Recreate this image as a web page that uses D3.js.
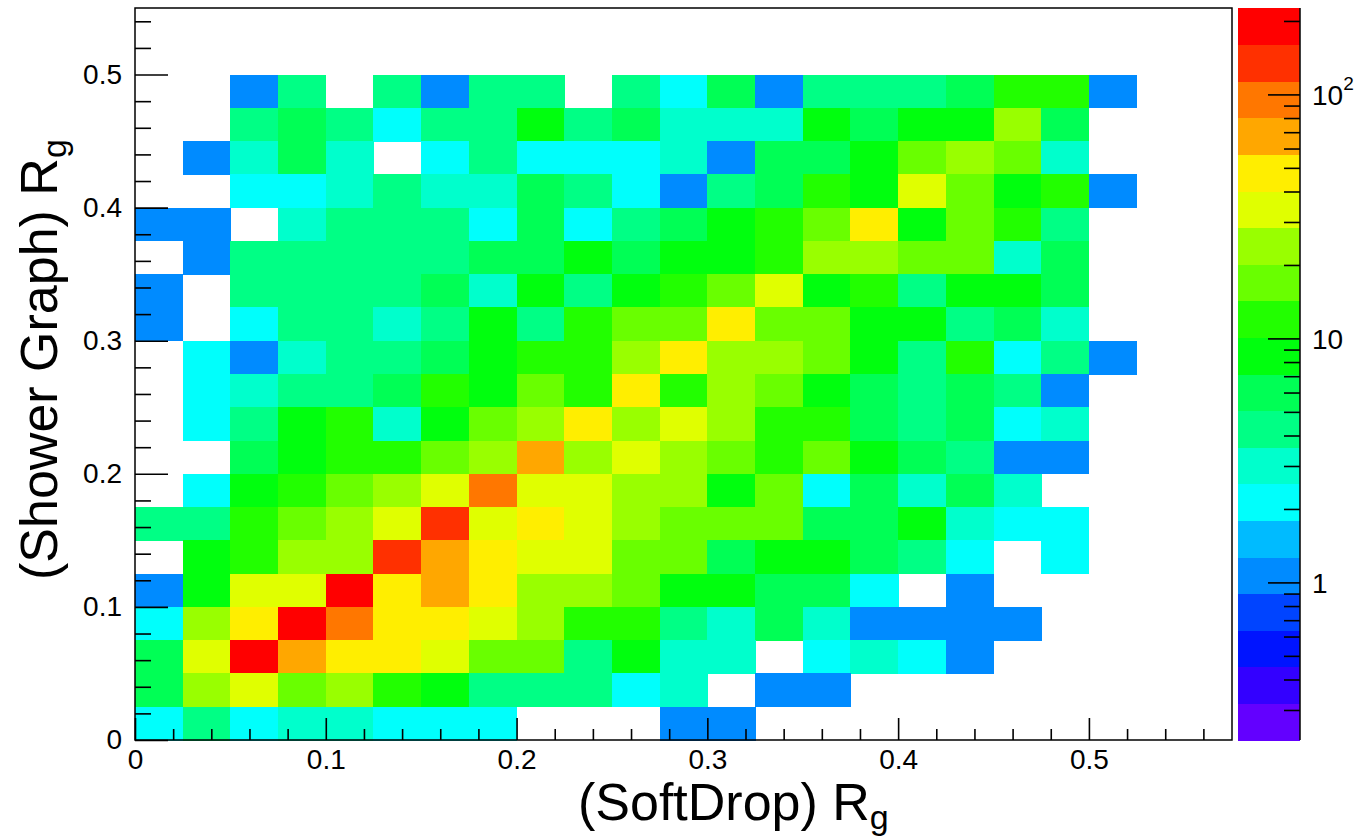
<!DOCTYPE html>
<html><head><meta charset="utf-8">
<script src="https://cdn.jsdelivr.net/npm/d3@7"></script>
<style>
body{margin:0;background:#fff}
svg{display:block}
text{font-family:"Liberation Sans", Arial, Helvetica, sans-serif;fill:#000}
</style>
</head><body>
<svg id="chart" width="1368" height="839"></svg>
<script>
// ---------------- data ----------------
const binWidth = 0.025;             // both axes
const xDomain = [0, 0.575];
const yDomain = [0, 0.55];
const xMajorTicks = [0, 0.1, 0.2, 0.3, 0.4, 0.5];
const yMajorTicks = [0, 0.1, 0.2, 0.3, 0.4, 0.5];
const zMajorTicks = [1, 10, 100];
const zTickLabels = ["1", "10", "10|2"];
const zRange = [0.226, 226];
const nLevels = 20;
// bin counts; first row = top row (y from 0.475 to 0.5), last row = bottom row (y 0 to 0.025)
const counts = [
  [0,0,1,4,0,4,1,4,4,0,4,2,6,1,4,4,4,6,12,12,1],
  [0,0,4,6,4,2,4,4,9,4,6,3,3,3,9,6,9,9,24,6,0],
  [0,1,3,6,3,0,2,4,2,2,2,3,1,6,6,9,17,24,17,3,0],
  [0,0,2,2,3,4,3,3,6,4,2,1,4,6,12,9,34,17,9,12,1],
  [1,1,0,3,4,4,4,2,6,2,4,6,9,12,17,48,9,17,12,4,0],
  [0,1,4,4,4,4,4,6,6,9,6,9,9,12,24,24,17,17,3,6,0],
  [1,0,4,4,4,4,6,3,9,4,9,12,17,34,9,12,4,9,9,6,0],
  [1,0,2,4,4,3,4,9,4,12,17,17,48,17,17,9,9,4,6,3,0],
  [0,2,1,3,4,4,6,9,12,12,24,48,24,24,17,9,4,12,2,4,1],
  [0,2,3,4,4,6,12,9,17,12,48,12,24,17,9,6,4,6,4,1,0],
  [0,2,4,9,12,3,9,17,24,48,24,34,24,12,12,6,4,6,2,3,0],
  [0,0,6,9,12,12,17,24,68,24,34,24,17,12,17,9,6,4,1,1,0],
  [0,2,9,12,17,24,34,95,34,34,24,24,9,17,2,6,3,6,3,0,0],
  [4,4,12,17,24,34,135,34,48,34,24,17,17,17,6,6,9,3,2,2,0],
  [0,9,12,24,24,135,68,48,34,34,17,17,6,9,9,6,4,2,0,2,0],
  [1,9,34,34,190,48,68,48,24,24,17,9,9,6,6,2,0,1,0,0,0],
  [2,24,48,190,95,48,48,34,24,12,12,4,3,6,3,1,1,1,1,0,0],
  [6,34,190,68,48,48,34,17,17,4,9,3,3,0,2,3,2,1,0,0,0],
  [6,24,34,17,24,12,9,4,4,4,2,3,0,1,1,0,0,0,0,0,0],
  [2,4,2,3,3,2,2,2,0,0,0,1,1,0,0,0,0,0,0,0,0]
];
const palette = ["#6300ff","#3300ff","#0014ff","#0044ff","#008bff","#00bbff","#00fffc","#00ffcc","#00ff85","#00ff55",
                 "#00ff0e","#22ff00","#69ff00","#99ff00","#e0ff00","#ffee00","#ffa700","#ff7700","#ff3000","#ff0000"];
const xTitle = "(SoftDrop) R";
const yTitle = "(Shower Graph) R";
const titleSub = "g";

// ---------------- layout ----------------
const svg = d3.select("#chart");
const L = 135, R = 1232, T = 8, B = 740;
const x = d3.scaleLinear().domain(xDomain).range([L, R]);
const y = d3.scaleLinear().domain(yDomain).range([B, T]);
const zLog = d3.scaleLog().domain(zRange).range([B, T]);
const color = d3.scaleQuantize()
  .domain([Math.log10(zRange[0]), Math.log10(zRange[1])])
  .range(palette);

// cells
const cells = [];
const nRows = counts.length;
counts.forEach((row, r) => {
  const yb = nRows - 1 - r;
  row.forEach((v, c) => { if (v > 0) cells.push({c, yb, v}); });
});
svg.append("g").attr("shape-rendering", "crispEdges")
  .selectAll("rect").data(cells).join("rect")
  .attr("x", d => x(d.c * binWidth))
  .attr("y", d => y((d.yb + 1) * binWidth))
  .attr("width", d => x((d.c + 1) * binWidth) - x(d.c * binWidth) + 0.5)
  .attr("height", d => y(d.yb * binWidth) - y((d.yb + 1) * binWidth) + 0.5)
  .attr("fill", d => color(Math.log10(d.v)));

// frame
svg.append("rect").attr("x", L).attr("y", T).attr("width", R - L).attr("height", B - T)
  .attr("fill", "none").attr("stroke", "#000").attr("stroke-width", 1.5);

const fmt = d => d === 0 ? "0" : d3.format(".1f")(d);
const minorX = d3.range(0, 0.571, 0.02).filter(v => Math.abs(v*10 - Math.round(v*10)) > 1e-6);
const minorY = d3.range(0, 0.551, 0.02).filter(v => Math.abs(v*10 - Math.round(v*10)) > 1e-6);

function styleAxis(g) {
  g.select(".domain").remove();
  g.selectAll(".tick line").attr("stroke", "#000").attr("stroke-width", 1.6);
  g.selectAll("text").attr("font-size", 28).attr("fill", "#000")
    .attr("font-family", '"Liberation Sans", Arial, Helvetica, sans-serif');
}
// x axis
svg.append("g").attr("transform", `translate(0,${B})`)
  .call(d3.axisBottom(x).tickValues(minorX).tickSize(-11).tickFormat(""))
  .call(styleAxis);
svg.append("g").attr("transform", `translate(0,${B})`)
  .call(d3.axisBottom(x).tickValues(xMajorTicks).tickSize(-22).tickPadding(9).tickFormat(fmt))
  .call(styleAxis);
// y axis
svg.append("g").attr("transform", `translate(${L},0)`)
  .call(d3.axisLeft(y).tickValues(minorY).tickSize(-16).tickFormat(""))
  .call(styleAxis);
svg.append("g").attr("transform", `translate(${L},0)`)
  .call(d3.axisLeft(y).tickValues(yMajorTicks).tickSize(-33).tickPadding(13).tickFormat(fmt))
  .call(styleAxis);

// colour bar
const barL = 1238, barR = 1300;
const bandH = (B - T) / nLevels;
svg.append("g").attr("shape-rendering", "crispEdges")
  .selectAll("rect").data(palette).join("rect")
  .attr("x", barL).attr("width", barR - barL)
  .attr("y", (d, i) => B - (i + 1) * bandH).attr("height", bandH + 0.5)
  .attr("fill", d => d);
svg.append("line").attr("x1", barR).attr("x2", barR).attr("y1", T).attr("y2", B)
  .attr("stroke", "#000").attr("stroke-width", 1.5);
const zMinor = [];
[0.1, 1, 10, 100].forEach(dec => { for (let k = 2; k <= 9; k++) { const v = k * dec; if (v >= zRange[0] && v <= zRange[1]) zMinor.push(v); } });
svg.append("g").attr("transform", `translate(${barR},0)`)
  .call(d3.axisRight(zLog).tickValues(zMinor).tickSize(-16).tickFormat(""))
  .call(styleAxis);
const zAx = svg.append("g").attr("transform", `translate(${barR},0)`)
  .call(d3.axisRight(zLog).tickValues(zMajorTicks).tickSize(-32).tickPadding(12).tickFormat(""))
  .call(styleAxis);
zAx.selectAll(".tick").each(function(d, i) {
  const parts = zTickLabels[i].split("|");
  const t = d3.select(this).append("text").attr("x", 12).attr("dy", "0.35em")
    .attr("font-size", 28).attr("text-anchor", "start").attr("fill", "#000").text(parts[0]);
  if (parts[1]) t.append("tspan").attr("font-size", 19).attr("dy", "-0.75em").text(parts[1]);
});

// titles
const xt = svg.append("text").attr("x", 578).attr("y", 820).attr("font-size", 52).text(xTitle);
xt.append("tspan").attr("font-size", 34).attr("dy", "0.25em").text(titleSub);
const yt = svg.append("text").attr("transform", "translate(57,580) rotate(-90)").attr("font-size", 52).text(yTitle);
yt.append("tspan").attr("font-size", 34).attr("dy", "0.25em").text(titleSub);
</script>
</body></html>
